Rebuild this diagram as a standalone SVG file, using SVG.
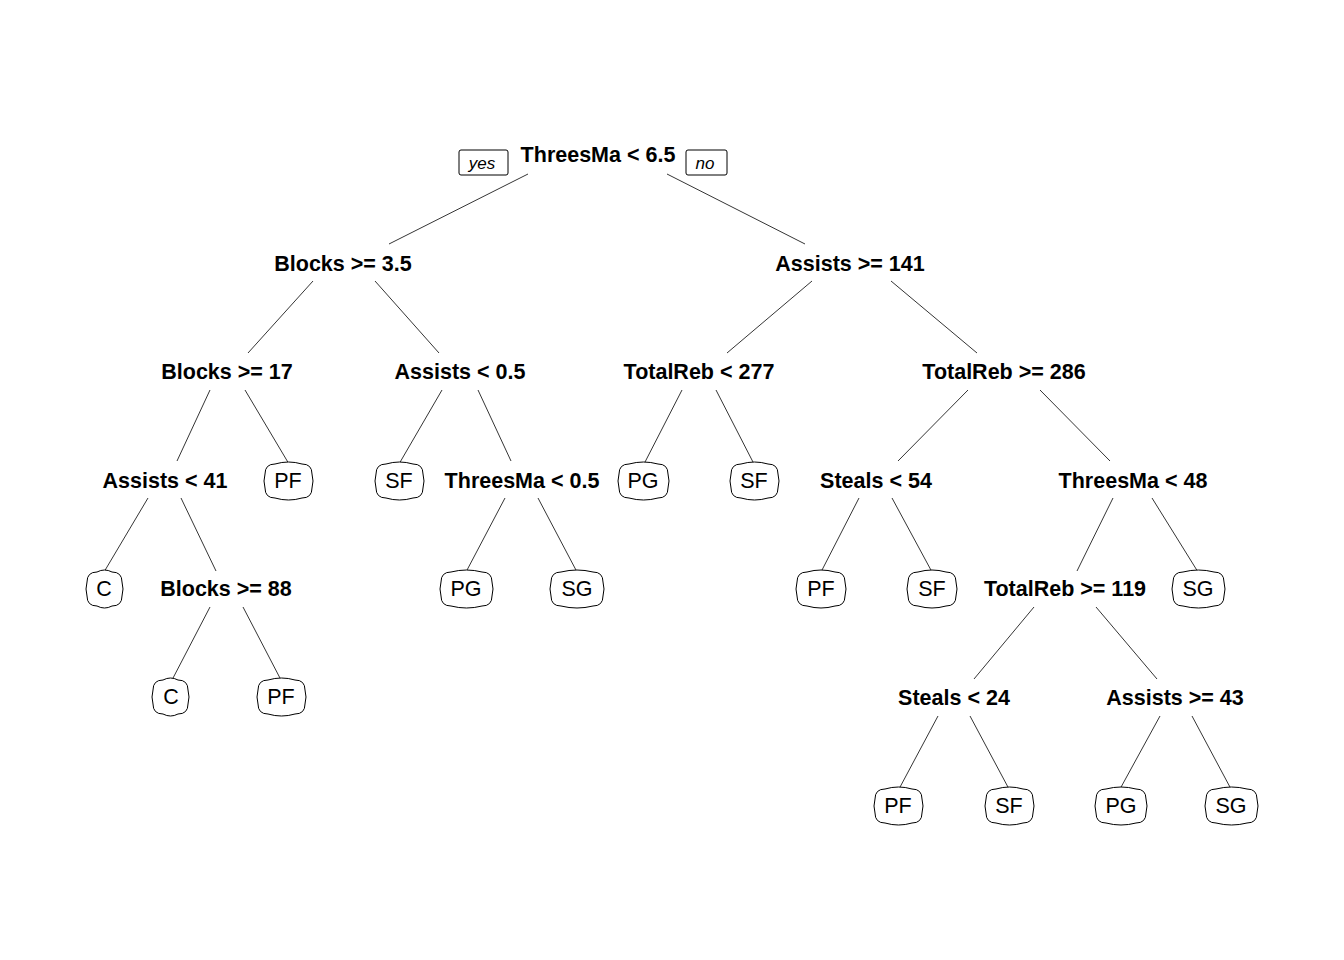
<svg xmlns="http://www.w3.org/2000/svg" width="1344" height="960" viewBox="0 0 1344 960">
<style>
.split{font-family:"Liberation Sans",Arial,sans-serif;font-size:21.5px;font-weight:bold;text-anchor:middle;fill:#000}
.leaf text{font-family:"Liberation Sans",Arial,sans-serif;font-size:21.5px;text-anchor:middle;fill:#000}
.leaf path{fill:#fff;stroke:#000;stroke-width:1}
.yn text{font-family:"Liberation Sans",Arial,sans-serif;font-size:17px;font-style:italic;text-anchor:middle;fill:#000}
.yn rect{fill:#fff;stroke:#000;stroke-width:1}
#connectors line{stroke:#000;stroke-width:0.8}
</style>
<rect width="1344" height="960" fill="#fff"/>
<g id="connectors">
<line x1="528" y1="174" x2="389" y2="244"/>
<line x1="667" y1="174" x2="805" y2="244"/>
<line x1="313" y1="281" x2="248" y2="353"/>
<line x1="375" y1="281" x2="439" y2="353"/>
<line x1="812" y1="281" x2="727" y2="353"/>
<line x1="891" y1="281" x2="977" y2="353"/>
<line x1="210" y1="390" x2="177" y2="461"/>
<line x1="245" y1="390" x2="289" y2="464"/>
<line x1="442" y1="390" x2="399" y2="464"/>
<line x1="478" y1="390" x2="511" y2="461"/>
<line x1="682" y1="390" x2="644" y2="464"/>
<line x1="716" y1="390" x2="754" y2="464"/>
<line x1="968" y1="390" x2="898" y2="461"/>
<line x1="1040" y1="390" x2="1110" y2="461"/>
<line x1="148" y1="498" x2="104" y2="572"/>
<line x1="181" y1="498" x2="216" y2="571"/>
<line x1="505" y1="498" x2="466" y2="572"/>
<line x1="538" y1="498" x2="577" y2="572"/>
<line x1="859" y1="498" x2="821" y2="572"/>
<line x1="892" y1="498" x2="932" y2="572"/>
<line x1="1113" y1="498" x2="1077" y2="571"/>
<line x1="1152" y1="498" x2="1198" y2="572"/>
<line x1="210" y1="607" x2="172" y2="680"/>
<line x1="243" y1="607" x2="281" y2="680"/>
<line x1="1034" y1="607" x2="974" y2="679"/>
<line x1="1096" y1="607" x2="1157" y2="679"/>
<line x1="938" y1="716" x2="899" y2="789"/>
<line x1="970" y1="716" x2="1009" y2="789"/>
<line x1="1160" y1="716" x2="1120" y2="789"/>
<line x1="1192" y1="716" x2="1231" y2="789"/>
</g>
<g id="yes" class="yn"><rect x="459" y="150" width="49" height="25" rx="2"/><text x="482" y="169">yes</text></g>
<g id="no" class="yn"><rect x="686" y="150" width="41" height="25" rx="2"/><text x="705" y="169">no</text></g>
<g id="n1"><text class="split" x="598" y="162">ThreesMa &lt; 6.5</text></g>
<g id="n2"><text class="split" x="343" y="271">Blocks &gt;= 3.5</text></g>
<g id="n3"><text class="split" x="850" y="271">Assists &gt;= 141</text></g>
<g id="n4"><text class="split" x="227" y="379">Blocks &gt;= 17</text></g>
<g id="n5"><text class="split" x="460" y="379">Assists &lt; 0.5</text></g>
<g id="n6"><text class="split" x="699" y="379">TotalReb &lt; 277</text></g>
<g id="n7"><text class="split" x="1004" y="379">TotalReb &gt;= 286</text></g>
<g id="n8"><text class="split" x="165" y="488">Assists &lt; 41</text></g>
<g id="n9" class="leaf"><path transform="translate(265,464)" d="M10,0q13.5,-4 27,0q10,0 10,10q2,7 0,14q0,10 -10,10q-13.5,4 -27,0q-10,0 -10,-10q-2,-7 0,-14q0,-10 10,-10z"/><text x="288" y="488">PF</text></g>
<g id="n10" class="leaf"><path transform="translate(376,464)" d="M10,0q13.5,-4 27,0q10,0 10,10q2,7 0,14q0,10 -10,10q-13.5,4 -27,0q-10,0 -10,-10q-2,-7 0,-14q0,-10 10,-10z"/><text x="399" y="488">SF</text></g>
<g id="n11"><text class="split" x="522" y="488">ThreesMa &lt; 0.5</text></g>
<g id="n12" class="leaf"><path transform="translate(619,464)" d="M10,0q14.5,-4 29,0q10,0 10,10q2,7 0,14q0,10 -10,10q-14.5,4 -29,0q-10,0 -10,-10q-2,-7 0,-14q0,-10 10,-10z"/><text x="643" y="488">PG</text></g>
<g id="n13" class="leaf"><path transform="translate(731,464)" d="M10,0q13.5,-4 27,0q10,0 10,10q2,7 0,14q0,10 -10,10q-13.5,4 -27,0q-10,0 -10,-10q-2,-7 0,-14q0,-10 10,-10z"/><text x="754" y="488">SF</text></g>
<g id="n14"><text class="split" x="876" y="488">Steals &lt; 54</text></g>
<g id="n15"><text class="split" x="1133" y="488">ThreesMa &lt; 48</text></g>
<g id="n16" class="leaf"><path transform="translate(87,572)" d="M10,0q7.5,-4 15,0q10,0 10,10q2,7 0,14q0,10 -10,10q-7.5,4 -15,0q-10,0 -10,-10q-2,-7 0,-14q0,-10 10,-10z"/><text x="104" y="596">C</text></g>
<g id="n17"><text class="split" x="226" y="596">Blocks &gt;= 88</text></g>
<g id="n18" class="leaf"><path transform="translate(441,572)" d="M10,0q15.5,-4 31,0q10,0 10,10q2,7 0,14q0,10 -10,10q-15.5,4 -31,0q-10,0 -10,-10q-2,-7 0,-14q0,-10 10,-10z"/><text x="466" y="596">PG</text></g>
<g id="n19" class="leaf"><path transform="translate(551,572)" d="M10,0q16,-4 32,0q10,0 10,10q2,7 0,14q0,10 -10,10q-16,4 -32,0q-10,0 -10,-10q-2,-7 0,-14q0,-10 10,-10z"/><text x="577" y="596">SG</text></g>
<g id="n20" class="leaf"><path transform="translate(797,572)" d="M10,0q14,-4 28,0q10,0 10,10q2,7 0,14q0,10 -10,10q-14,4 -28,0q-10,0 -10,-10q-2,-7 0,-14q0,-10 10,-10z"/><text x="821" y="596">PF</text></g>
<g id="n21" class="leaf"><path transform="translate(908,572)" d="M10,0q14,-4 28,0q10,0 10,10q2,7 0,14q0,10 -10,10q-14,4 -28,0q-10,0 -10,-10q-2,-7 0,-14q0,-10 10,-10z"/><text x="932" y="596">SF</text></g>
<g id="n22"><text class="split" x="1065" y="596">TotalReb &gt;= 119</text></g>
<g id="n23" class="leaf"><path transform="translate(1173,572)" d="M10,0q15.5,-4 31,0q10,0 10,10q2,7 0,14q0,10 -10,10q-15.5,4 -31,0q-10,0 -10,-10q-2,-7 0,-14q0,-10 10,-10z"/><text x="1198" y="596">SG</text></g>
<g id="n24" class="leaf"><path transform="translate(153,680)" d="M10,0q7.5,-4 15,0q10,0 10,10q2,7 0,14q0,10 -10,10q-7.5,4 -15,0q-10,0 -10,-10q-2,-7 0,-14q0,-10 10,-10z"/><text x="171" y="704">C</text></g>
<g id="n25" class="leaf"><path transform="translate(258,680)" d="M10,0q13.5,-4 27,0q10,0 10,10q2,7 0,14q0,10 -10,10q-13.5,4 -27,0q-10,0 -10,-10q-2,-7 0,-14q0,-10 10,-10z"/><text x="281" y="704">PF</text></g>
<g id="n26"><text class="split" x="954" y="705">Steals &lt; 24</text></g>
<g id="n27"><text class="split" x="1175" y="705">Assists &gt;= 43</text></g>
<g id="n28" class="leaf"><path transform="translate(875,789)" d="M10,0q13.5,-4 27,0q10,0 10,10q2,7 0,14q0,10 -10,10q-13.5,4 -27,0q-10,0 -10,-10q-2,-7 0,-14q0,-10 10,-10z"/><text x="898" y="813">PF</text></g>
<g id="n29" class="leaf"><path transform="translate(986,789)" d="M10,0q13.5,-4 27,0q10,0 10,10q2,7 0,14q0,10 -10,10q-13.5,4 -27,0q-10,0 -10,-10q-2,-7 0,-14q0,-10 10,-10z"/><text x="1009" y="813">SF</text></g>
<g id="n30" class="leaf"><path transform="translate(1096,789)" d="M10,0q15,-4 30,0q10,0 10,10q2,7 0,14q0,10 -10,10q-15,4 -30,0q-10,0 -10,-10q-2,-7 0,-14q0,-10 10,-10z"/><text x="1121" y="813">PG</text></g>
<g id="n31" class="leaf"><path transform="translate(1206,789)" d="M10,0q15.5,-4 31,0q10,0 10,10q2,7 0,14q0,10 -10,10q-15.5,4 -31,0q-10,0 -10,-10q-2,-7 0,-14q0,-10 10,-10z"/><text x="1231" y="813">SG</text></g>
</svg>
